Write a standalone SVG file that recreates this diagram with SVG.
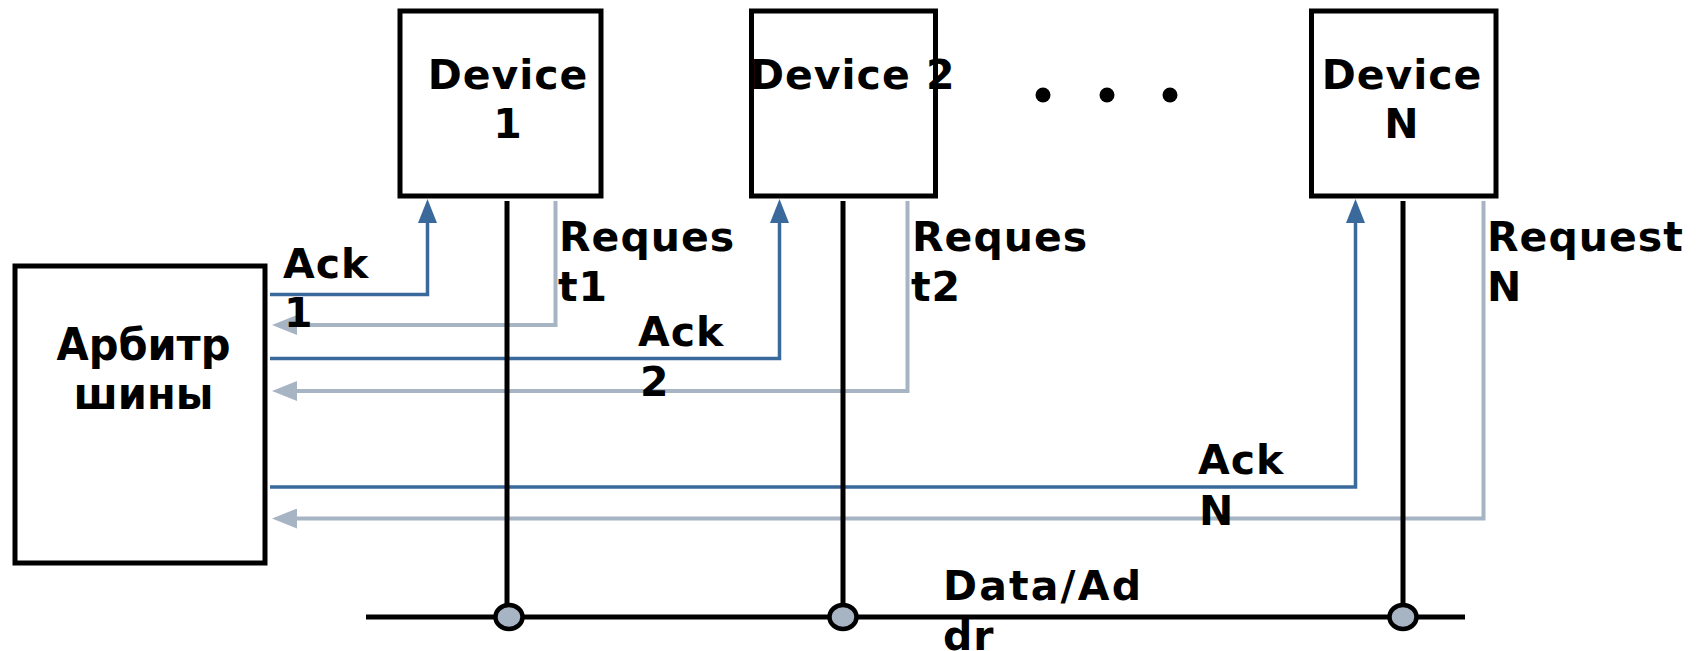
<svg xmlns="http://www.w3.org/2000/svg" width="1698" height="651" viewBox="0 0 1698 651">
  <style>
    .box { fill: #ffffff; stroke: #000000; stroke-width: 5; }
    .lbl { font-family: "DejaVu Sans", "Liberation Sans", sans-serif; font-weight: bold; font-size: 41px; letter-spacing: 1px; fill: #000000; }
    .arb { font-family: "Liberation Sans Narrow", "DejaVu Sans Condensed", "Liberation Sans", sans-serif; font-weight: bold; font-size: 44px; fill: #000000; }
    .ack { fill: none; stroke: #3a6a9c; stroke-width: 3.5; marker-end: url(#ackHead); }
    .req { fill: none; stroke: #a6b4c4; stroke-width: 4; marker-end: url(#reqHead); }
    .bus { fill: none; stroke: #000000; stroke-width: 5; }
    .tap { fill: #a6b4c4; stroke: #000000; stroke-width: 4.5; }
  </style>
  <defs>
    <marker id="ackHead" markerUnits="userSpaceOnUse" markerWidth="24" markerHeight="19" refX="1" refY="9.5" orient="auto">
      <path d="M0,0 L24,9.5 L0,19 z" fill="#3a6a9c"/>
    </marker>
    <marker id="reqHead" markerUnits="userSpaceOnUse" markerWidth="25" markerHeight="20" refX="1" refY="10" orient="auto">
      <path d="M0,0 L25,10 L0,20 z" fill="#a6b4c4"/>
    </marker>
  </defs>

  <rect width="1698" height="651" fill="#ffffff"/>

  <!-- signal and bus wiring -->
  <g id="connectors">
    <!-- acknowledge lines: arbiter to devices -->
    <path class="ack" d="M270,294.5 H427.5 V222"/>
    <path class="ack" d="M270,358.5 H779.5 V222"/>
    <path class="ack" d="M270,487 H1355.5 V222"/>
    <!-- request lines: devices to arbiter -->
    <path class="req" d="M555.5,201 V325 H296"/>
    <path class="req" d="M907.5,201 V391 H296"/>
    <path class="req" d="M1483.5,201 V518.5 H296"/>
    <!-- shared data/address bus -->
    <line class="bus" x1="366" y1="617" x2="1465" y2="617"/>
    <line class="bus" x1="507" y1="201" x2="507" y2="606"/>
    <line class="bus" x1="843" y1="201" x2="843" y2="606"/>
    <line class="bus" x1="1403" y1="201" x2="1403" y2="606"/>
    <ellipse class="tap" cx="509" cy="617" rx="13.5" ry="12"/>
    <ellipse class="tap" cx="843" cy="617" rx="13.5" ry="12"/>
    <ellipse class="tap" cx="1403" cy="617" rx="13.5" ry="12"/>
  </g>

  <g id="arbiter">
    <rect class="box" x="15" y="266" width="250" height="297"/>
    <text class="arb" x="143.5" y="360" text-anchor="middle" textLength="174" lengthAdjust="spacingAndGlyphs">Арбитр</text>
    <text class="arb" x="143.5" y="409" text-anchor="middle" textLength="140" lengthAdjust="spacingAndGlyphs">шины</text>
  </g>

  <g id="device1">
    <rect class="box" x="400" y="11" width="201" height="185"/>
    <text class="lbl" x="508" y="89" text-anchor="middle">Device</text>
    <text class="lbl" x="508" y="138" text-anchor="middle">1</text>
  </g>

  <g id="device2">
    <rect class="box" x="751.5" y="11" width="184" height="185"/>
    <text class="lbl" x="750" y="89">Device 2</text>
  </g>

  <g id="ellipsis">
    <circle cx="1043" cy="95" r="7.5" fill="#000000"/>
    <circle cx="1107" cy="95" r="7.5" fill="#000000"/>
    <circle cx="1170" cy="95" r="7.5" fill="#000000"/>
  </g>

  <g id="deviceN">
    <rect class="box" x="1311.5" y="11" width="184.5" height="185"/>
    <text class="lbl" x="1402" y="89" text-anchor="middle">Device</text>
    <text class="lbl" x="1402" y="138" text-anchor="middle">N</text>
  </g>

  <!-- signal labels -->
  <g id="labels">
    <text class="lbl" x="283" y="278">Ack</text>
    <text class="lbl" x="284" y="327">1</text>
    <text class="lbl" x="638" y="346">Ack</text>
    <text class="lbl" x="640" y="396">2</text>
    <text class="lbl" x="1198" y="474">Ack</text>
    <text class="lbl" x="1199" y="525">N</text>
    <text class="lbl" x="559" y="251">Reques</text>
    <text class="lbl" x="558" y="301">t1</text>
    <text class="lbl" x="912" y="251">Reques</text>
    <text class="lbl" x="911" y="301">t2</text>
    <text class="lbl" x="1487" y="251">Request</text>
    <text class="lbl" x="1487" y="301">N</text>
    <text class="lbl" x="943" y="600" textLength="199" lengthAdjust="spacing">Data/Ad</text>
    <text class="lbl" x="943" y="650">dr</text>
  </g>
</svg>
